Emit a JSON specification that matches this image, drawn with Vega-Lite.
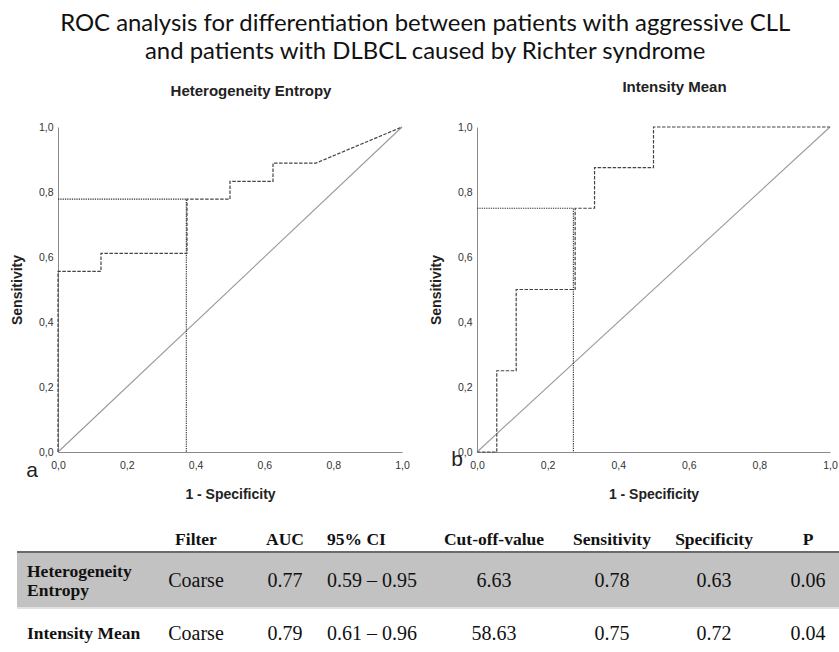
{
  "$schema": "https://vega.github.io/schema/vega-lite/v6.json",
  "background": "white",
  "padding": {"left": 10, "top": 12, "right": 0, "bottom": 0},
  "title": {
    "text": ["ROC analysis for differentiation between patients with aggressive CLL", "and patients with DLBCL caused by Richter syndrome"],
    "font": "Lato", "fontSize": 23.9, "fontWeight": "normal", "lineHeight": 28, "color": "#111", "anchor": "middle", "offset": 16
  },
  "datasets": {
    "roc": [
      {"panel": "HE", "kind": "ref", "i": 0, "fpr": 0, "tpr": 0},
      {"panel": "HE", "kind": "ref", "i": 1, "fpr": 1, "tpr": 1},
      {"panel": "HE", "kind": "cutoff", "i": 0, "fpr": 0, "tpr": 0.778},
      {"panel": "HE", "kind": "cutoff", "i": 1, "fpr": 0.373, "tpr": 0.778},
      {"panel": "HE", "kind": "cutoff", "i": 2, "fpr": 0.373, "tpr": 0},
      {"panel": "HE", "kind": "curve", "i": 0, "fpr": 0, "tpr": 0},
      {"panel": "HE", "kind": "curve", "i": 1, "fpr": 0, "tpr": 0.556},
      {"panel": "HE", "kind": "curve", "i": 2, "fpr": 0.125, "tpr": 0.556},
      {"panel": "HE", "kind": "curve", "i": 3, "fpr": 0.125, "tpr": 0.611},
      {"panel": "HE", "kind": "curve", "i": 4, "fpr": 0.375, "tpr": 0.611},
      {"panel": "HE", "kind": "curve", "i": 5, "fpr": 0.375, "tpr": 0.778},
      {"panel": "HE", "kind": "curve", "i": 6, "fpr": 0.5, "tpr": 0.778},
      {"panel": "HE", "kind": "curve", "i": 7, "fpr": 0.5, "tpr": 0.833},
      {"panel": "HE", "kind": "curve", "i": 8, "fpr": 0.625, "tpr": 0.833},
      {"panel": "HE", "kind": "curve", "i": 9, "fpr": 0.625, "tpr": 0.889},
      {"panel": "HE", "kind": "curve", "i": 10, "fpr": 0.75, "tpr": 0.889},
      {"panel": "HE", "kind": "curve", "i": 11, "fpr": 1, "tpr": 1},
      {"panel": "IM", "kind": "ref", "i": 0, "fpr": 0, "tpr": 0},
      {"panel": "IM", "kind": "ref", "i": 1, "fpr": 1, "tpr": 1},
      {"panel": "IM", "kind": "cutoff", "i": 0, "fpr": 0, "tpr": 0.75},
      {"panel": "IM", "kind": "cutoff", "i": 1, "fpr": 0.273, "tpr": 0.75},
      {"panel": "IM", "kind": "cutoff", "i": 2, "fpr": 0.273, "tpr": 0},
      {"panel": "IM", "kind": "curve", "i": 0, "fpr": 0, "tpr": 0},
      {"panel": "IM", "kind": "curve", "i": 1, "fpr": 0.056, "tpr": 0},
      {"panel": "IM", "kind": "curve", "i": 2, "fpr": 0.056, "tpr": 0.25},
      {"panel": "IM", "kind": "curve", "i": 3, "fpr": 0.111, "tpr": 0.25},
      {"panel": "IM", "kind": "curve", "i": 4, "fpr": 0.111, "tpr": 0.5},
      {"panel": "IM", "kind": "curve", "i": 5, "fpr": 0.278, "tpr": 0.5},
      {"panel": "IM", "kind": "curve", "i": 6, "fpr": 0.278, "tpr": 0.75},
      {"panel": "IM", "kind": "curve", "i": 7, "fpr": 0.333, "tpr": 0.75},
      {"panel": "IM", "kind": "curve", "i": 8, "fpr": 0.333, "tpr": 0.875},
      {"panel": "IM", "kind": "curve", "i": 9, "fpr": 0.5, "tpr": 0.875},
      {"panel": "IM", "kind": "curve", "i": 10, "fpr": 0.5, "tpr": 1},
      {"panel": "IM", "kind": "curve", "i": 11, "fpr": 1, "tpr": 1}
    ],
    "letters": [
      {"panel": "HE", "letter": "a"},
      {"panel": "IM", "letter": "b"}
    ],
    "band": [
      {"top": 0.5, "bottom": 1.5, "from": -1, "to": 8}
    ],
    "table": [
      {"ri": 0, "ci": 1, "t": "Filter"},
      {"ri": 0, "ci": 2, "t": "AUC"},
      {"ri": 0, "ci": 3, "t": "95% CI"},
      {"ri": 0, "ci": 4, "t": "Cut-off-value"},
      {"ri": 0, "ci": 5, "t": "Sensitivity"},
      {"ri": 0, "ci": 6, "t": "Specificity"},
      {"ri": 0, "ci": 7, "t": "P"},
      {"ri": 1, "ci": 0, "t": ["Heterogeneity", "Entropy"]},
      {"ri": 1, "ci": 1, "t": "Coarse"},
      {"ri": 1, "ci": 2, "t": "0.77"},
      {"ri": 1, "ci": 3, "t": "0.59 – 0.95"},
      {"ri": 1, "ci": 4, "t": "6.63"},
      {"ri": 1, "ci": 5, "t": "0.78"},
      {"ri": 1, "ci": 6, "t": "0.63"},
      {"ri": 1, "ci": 7, "t": "0.06"},
      {"ri": 2, "ci": 0, "t": "Intensity Mean"},
      {"ri": 2, "ci": 1, "t": "Coarse"},
      {"ri": 2, "ci": 2, "t": "0.79"},
      {"ri": 2, "ci": 3, "t": "0.61 – 0.96"},
      {"ri": 2, "ci": 4, "t": "58.63"},
      {"ri": 2, "ci": 5, "t": "0.75"},
      {"ri": 2, "ci": 6, "t": "0.72"},
      {"ri": 2, "ci": 7, "t": "0.04"}
    ]
  },
  "spacing": 15,
  "columns": 1,
  "align": "none",
  "concat": [
    {
      "spacing": 19,
      "columns": 2,
      "align": "none",
      "concat": [
        {
          "width": 344, "height": 325,
          "title": {"text": "Heterogeneity Entropy", "dx": 21, "offset": 23},
          "layer": [
            {
              "data": {"name": "roc"},
              "transform": [{"filter": "datum.panel === 'HE' && datum.kind === 'ref'"}],
              "mark": {"type": "line", "color": "#9a9a9a", "strokeWidth": 1.1},
              "encoding": {
                "x": {"field": "fpr", "type": "quantitative", "scale": {"domain": [0, 1], "nice": false},
                      "axis": {"title": "1 - Specificity", "values": [0, 0.2, 0.4, 0.6, 0.8, 1], "format": ".1f", "labelExpr": "replace(datum.label, '.', ',')", "labelPadding": 8, "titlePadding": 17}},
                "y": {"field": "tpr", "type": "quantitative", "scale": {"domain": [0, 1], "nice": false},
                      "axis": {"title": "Sensitivity", "values": [0, 0.2, 0.4, 0.6, 0.8, 1], "format": ".1f", "labelExpr": "replace(datum.label, '.', ',')", "labelPadding": 5, "titlePadding": 14}},
                "order": {"field": "i", "type": "quantitative"}
              }
            },
            {
              "data": {"name": "roc"},
              "transform": [{"filter": "datum.panel === 'HE' && datum.kind === 'cutoff'"}],
              "mark": {"type": "line", "color": "#333", "strokeWidth": 1.1, "strokeDash": [1.3, 1]},
              "encoding": {
                "x": {"field": "fpr", "type": "quantitative"},
                "y": {"field": "tpr", "type": "quantitative"},
                "order": {"field": "i", "type": "quantitative"}
              }
            },
            {
              "data": {"name": "roc"},
              "transform": [{"filter": "datum.panel === 'HE' && datum.kind === 'curve'"}],
              "mark": {"type": "line", "color": "#444", "strokeWidth": 1.2, "strokeDash": [3.5, 1.5]},
              "encoding": {
                "x": {"field": "fpr", "type": "quantitative"},
                "y": {"field": "tpr", "type": "quantitative"},
                "order": {"field": "i", "type": "quantitative"}
              }
            },
            {
              "data": {"name": "letters"},
              "transform": [{"filter": "datum.panel === 'HE'"}],
              "mark": {"type": "text", "font": "Liberation Sans", "fontSize": 21, "color": "#222", "dx": -26, "dy": 19, "baseline": "middle"},
              "encoding": {
                "x": {"datum": 0, "type": "quantitative"},
                "y": {"datum": 0, "type": "quantitative"},
                "text": {"field": "letter"}
              }
            }
          ]
        },
        {
          "width": 353, "height": 325,
          "title": {"text": "Intensity Mean", "dx": 21, "offset": 27},
          "layer": [
            {
              "data": {"name": "roc"},
              "transform": [{"filter": "datum.panel === 'IM' && datum.kind === 'ref'"}],
              "mark": {"type": "line", "color": "#9a9a9a", "strokeWidth": 1.1},
              "encoding": {
                "x": {"field": "fpr", "type": "quantitative", "scale": {"domain": [0, 1], "nice": false},
                      "axis": {"title": "1 - Specificity", "values": [0, 0.2, 0.4, 0.6, 0.8, 1], "format": ".1f", "labelExpr": "replace(datum.label, '.', ',')", "labelPadding": 8, "titlePadding": 17}},
                "y": {"field": "tpr", "type": "quantitative", "scale": {"domain": [0, 1], "nice": false},
                      "axis": {"title": "Sensitivity", "values": [0, 0.2, 0.4, 0.6, 0.8, 1], "format": ".1f", "labelExpr": "replace(datum.label, '.', ',')", "labelPadding": 5, "titlePadding": 14}},
                "order": {"field": "i", "type": "quantitative"}
              }
            },
            {
              "data": {"name": "roc"},
              "transform": [{"filter": "datum.panel === 'IM' && datum.kind === 'cutoff'"}],
              "mark": {"type": "line", "color": "#333", "strokeWidth": 1.1, "strokeDash": [1.3, 1]},
              "encoding": {
                "x": {"field": "fpr", "type": "quantitative"},
                "y": {"field": "tpr", "type": "quantitative"},
                "order": {"field": "i", "type": "quantitative"}
              }
            },
            {
              "data": {"name": "roc"},
              "transform": [{"filter": "datum.panel === 'IM' && datum.kind === 'curve'"}],
              "mark": {"type": "line", "color": "#444", "strokeWidth": 1.2, "strokeDash": [3.5, 1.5]},
              "encoding": {
                "x": {"field": "fpr", "type": "quantitative"},
                "y": {"field": "tpr", "type": "quantitative"},
                "order": {"field": "i", "type": "quantitative"}
              }
            },
            {
              "data": {"name": "letters"},
              "transform": [{"filter": "datum.panel === 'IM'"}],
              "mark": {"type": "text", "font": "Liberation Sans", "fontSize": 21, "color": "#222", "dx": -20, "dy": 8, "baseline": "middle"},
              "encoding": {
                "x": {"datum": 0, "type": "quantitative"},
                "y": {"datum": 0, "type": "quantitative"},
                "text": {"field": "letter"}
              }
            }
          ]
        }
      ]
    },
    {
      "width": 781, "height": 140,
      "layer": [
        {
          "data": {"name": "band"},
          "mark": {"type": "rect", "color": "#c2c2c2"},
          "encoding": {
            "x": {"field": "from", "type": "quantitative", "scale": {"domain": [-1, 0, 1, 2, 3, 4, 5, 6, 7, 8], "range": [-41, -31, 138, 227, 269, 436, 554, 656, 750, 781]}, "axis": null},
            "x2": {"field": "to"},
            "y": {"field": "top", "type": "quantitative", "scale": {"domain": [0, 0.5, 1, 1.5, 2], "range": [23, 35, 64, 91, 117]}, "axis": null},
            "y2": {"field": "bottom"}
          }
        },
        {
          "data": {"name": "band"},
          "mark": {"type": "rule", "color": "#6a6a6a", "strokeWidth": 2},
          "encoding": {
            "x": {"field": "from", "type": "quantitative"},
            "x2": {"field": "to"},
            "y": {"field": "top", "type": "quantitative"}
          }
        },
        {
          "data": {"name": "band"},
          "mark": {"type": "rule", "color": "#e2e2e2", "strokeWidth": 2},
          "encoding": {
            "x": {"field": "from", "type": "quantitative"},
            "x2": {"field": "to"},
            "y": {"field": "bottom", "type": "quantitative"}
          }
        },
        {
          "data": {"name": "table"},
          "transform": [{"filter": "datum.ri === 0 && datum.ci !== 3"}],
          "mark": {"type": "text", "font": "Liberation Serif", "fontSize": 17.5, "fontWeight": "bold", "color": "#111", "align": "center", "baseline": "middle"},
          "encoding": {
            "x": {"field": "ci", "type": "quantitative"},
            "y": {"field": "ri", "type": "quantitative"},
            "text": {"field": "t"}
          }
        },
        {
          "data": {"name": "table"},
          "transform": [{"filter": "(datum.ri === 0 && datum.ci === 3) || (datum.ri === 2 && datum.ci === 0)"}],
          "mark": {"type": "text", "font": "Liberation Serif", "fontSize": 17.5, "fontWeight": "bold", "color": "#111", "align": "left", "baseline": "middle"},
          "encoding": {
            "x": {"field": "ci", "type": "quantitative"},
            "y": {"field": "ri", "type": "quantitative"},
            "text": {"field": "t"}
          }
        },
        {
          "data": {"name": "table"},
          "transform": [{"filter": "datum.ri === 1 && datum.ci === 0"}],
          "mark": {"type": "text", "font": "Liberation Serif", "fontSize": 17.5, "fontWeight": "bold", "color": "#111", "align": "left", "baseline": "middle", "lineHeight": 19, "dy": -9.5},
          "encoding": {
            "x": {"field": "ci", "type": "quantitative"},
            "y": {"field": "ri", "type": "quantitative"},
            "text": {"field": "t"}
          }
        },
        {
          "data": {"name": "table"},
          "transform": [{"filter": "datum.ri !== 0 && datum.ci !== 0 && datum.ci !== 3"}],
          "mark": {"type": "text", "font": "Liberation Serif", "fontSize": 20, "color": "#111", "align": "center", "baseline": "middle"},
          "encoding": {
            "x": {"field": "ci", "type": "quantitative"},
            "y": {"field": "ri", "type": "quantitative"},
            "text": {"field": "t"}
          }
        },
        {
          "data": {"name": "table"},
          "transform": [{"filter": "datum.ri !== 0 && datum.ci === 3"}],
          "mark": {"type": "text", "font": "Liberation Serif", "fontSize": 20, "color": "#111", "align": "left", "baseline": "middle"},
          "encoding": {
            "x": {"field": "ci", "type": "quantitative"},
            "y": {"field": "ri", "type": "quantitative"},
            "text": {"field": "t"}
          }
        }
      ]
    }
  ],
  "config": {
    "view": {"stroke": null},
    "axis": {
      "grid": false, "ticks": false, "domainColor": "#8a8a8a", "domainWidth": 1,
      "labelFont": "Liberation Sans", "labelFontSize": 10.5, "labelColor": "#333", "labelFlush": false,
      "titleFont": "Liberation Sans", "titleFontSize": 14, "titleFontWeight": "bold", "titleColor": "#222"
    },
    "title": {"font": "Liberation Sans", "fontSize": 15, "fontWeight": "bold", "color": "#222"}
  }
}
